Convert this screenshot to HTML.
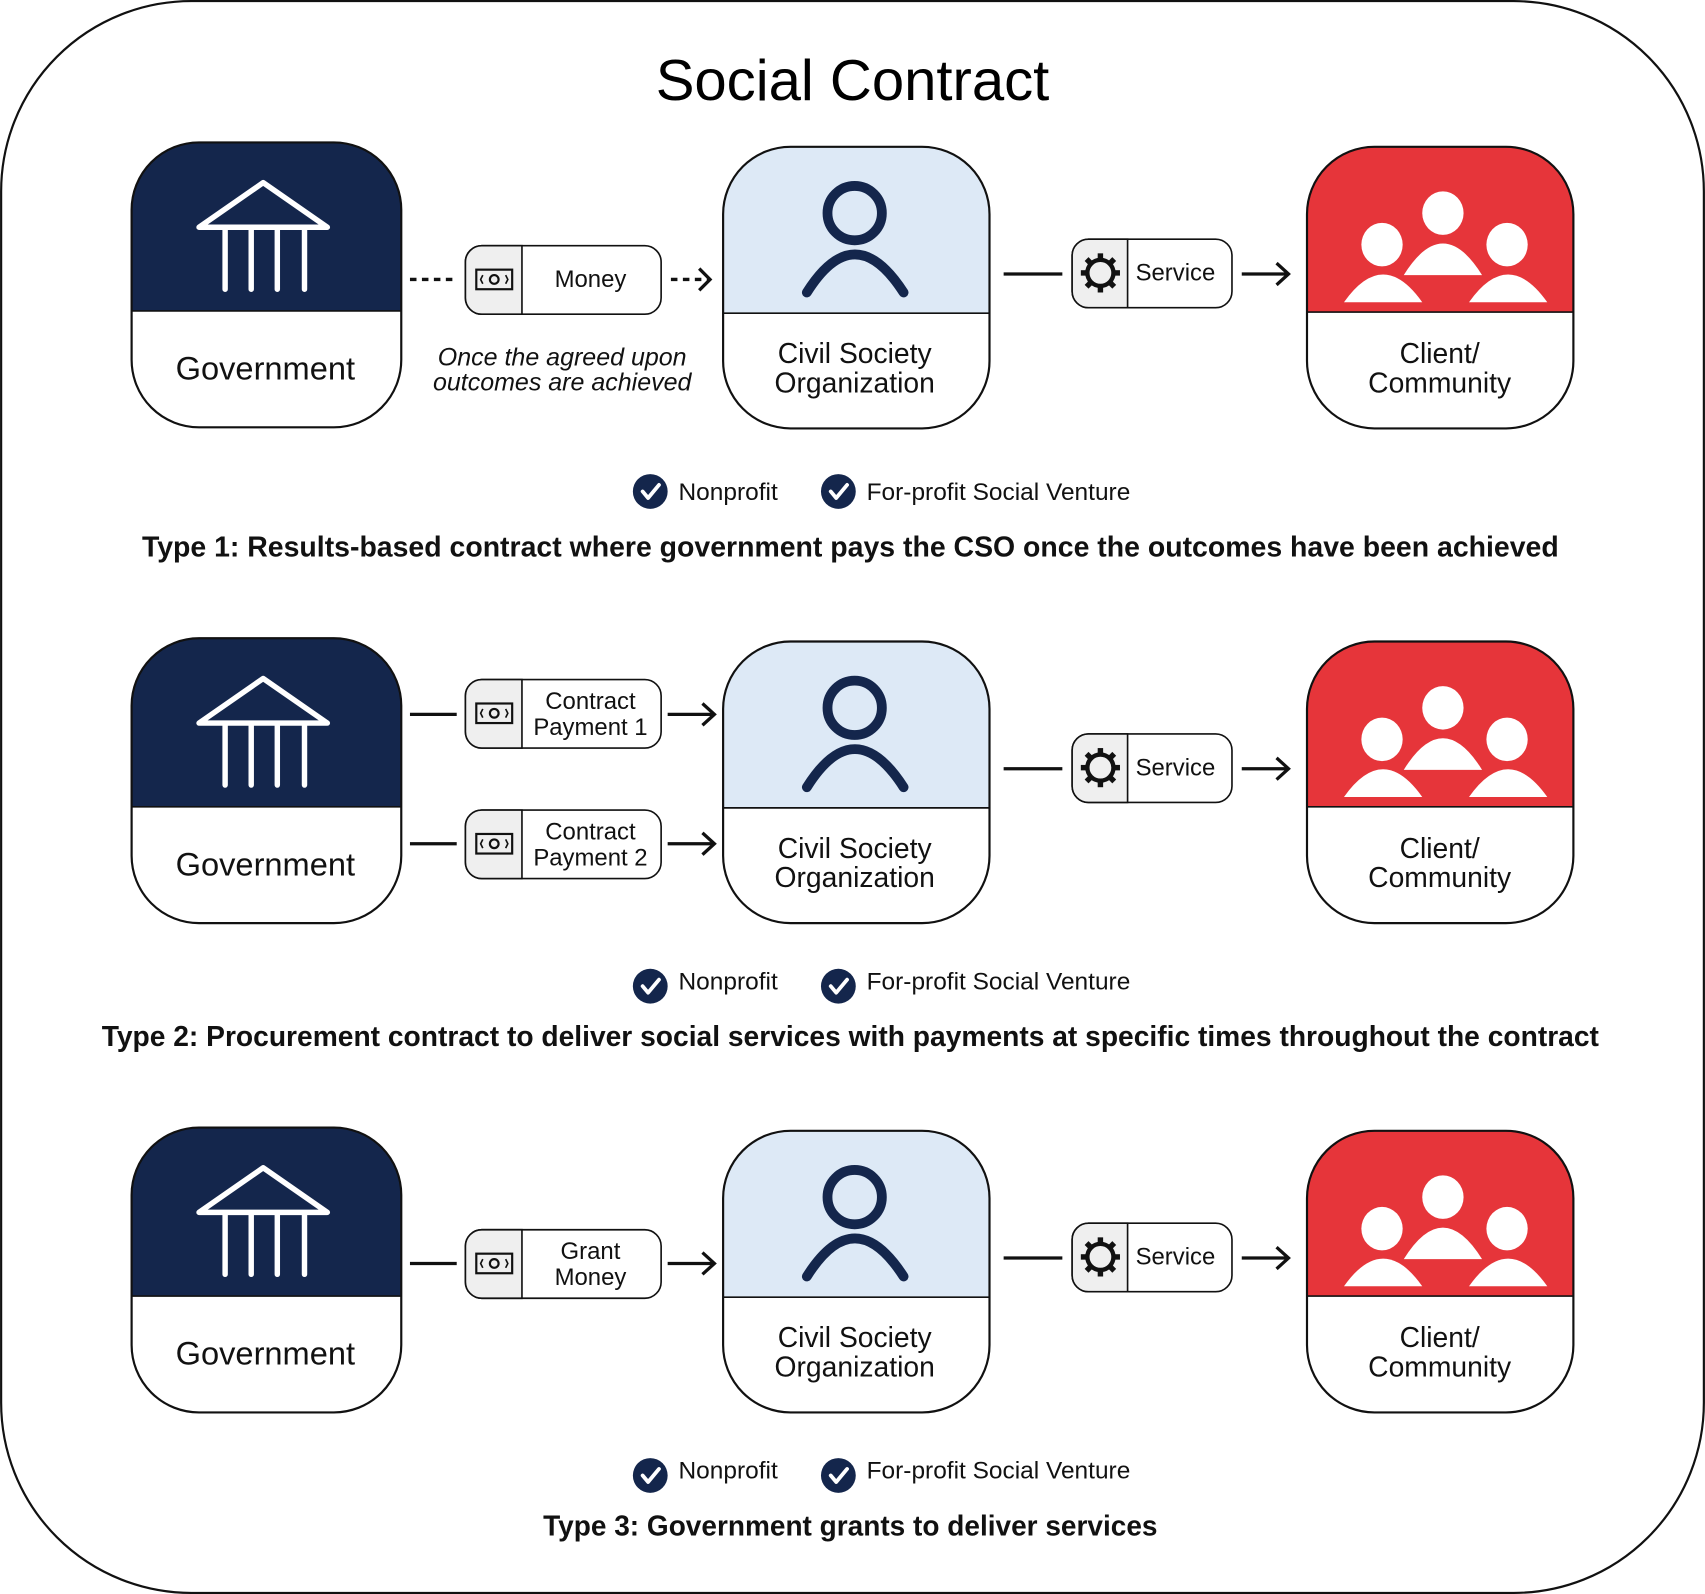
<!DOCTYPE html>
<html><head><meta charset="utf-8"><style>html,body{margin:0;padding:0;background:#fff}svg{display:block}text{font-family:"Liberation Sans",sans-serif}</style></head>
<body>
<svg width="1705" height="1594" viewBox="0 0 1568 1466" xmlns="http://www.w3.org/2000/svg">
<defs>
<clipPath id="cg"><rect x="0" y="0" width="248" height="262" rx="62"/></clipPath>
<clipPath id="cc"><rect x="0" y="0" width="245" height="259" rx="62"/></clipPath>
<g id="gov">
 <rect x="0" y="0" width="248" height="262" rx="62" fill="#fff"/>
 <rect x="0" y="0" width="248" height="155" fill="#14264c" clip-path="url(#cg)"/>
 <line x1="0" y1="155" x2="248" y2="155" stroke="#111" stroke-width="1.5"/>
 <rect x="0" y="0" width="248" height="262" rx="62" fill="none" stroke="#111" stroke-width="2"/>
 <g stroke="#fff" stroke-width="5" stroke-linecap="round" stroke-linejoin="round" fill="none">
  <path d="M62 78 L121 37 L180 78 Z"/>
  <line x1="86" y1="80" x2="86" y2="135"/><line x1="110" y1="80" x2="110" y2="135"/>
  <line x1="134" y1="80" x2="134" y2="135"/><line x1="159" y1="80" x2="159" y2="135"/>
 </g>
</g>
<g id="cso">
 <rect x="0" y="0" width="245" height="259" rx="62" fill="#fff"/>
 <rect x="0" y="0" width="245" height="153" fill="#dde9f6" clip-path="url(#cc)"/>
 <line x1="0" y1="153" x2="245" y2="153" stroke="#111" stroke-width="1.5"/>
 <rect x="0" y="0" width="245" height="259" rx="62" fill="none" stroke="#111" stroke-width="2"/>
 <circle cx="121" cy="61" r="25" fill="none" stroke="#14264c" stroke-width="9"/>
 <path d="M77 134 Q121 64 166 134" fill="none" stroke="#14264c" stroke-width="9" stroke-linecap="round"/>
</g>
<g id="cli">
 <rect x="0" y="0" width="245" height="259" rx="62" fill="#fff"/>
 <rect x="0" y="0" width="245" height="152" fill="#e6353a" clip-path="url(#cc)"/>
 <line x1="0" y1="152" x2="245" y2="152" stroke="#111" stroke-width="1.5"/>
 <rect x="0" y="0" width="245" height="259" rx="62" fill="none" stroke="#111" stroke-width="2"/>
 <g fill="#fff">
  <ellipse cx="69" cy="90" rx="19" ry="20"/>
  <ellipse cx="125" cy="61" rx="19" ry="20"/>
  <ellipse cx="184" cy="90" rx="19" ry="20"/>
  <path d="M89 118 Q125 60 161 118 Z"/>
  <path d="M34 143 Q70 92 106 143 Z"/>
  <path d="M149 143 Q185 92 221 143 Z"/>
 </g>
</g>
<g id="money">
 <rect x="0" y="0" width="180" height="63" rx="15" fill="#fff" stroke="#111" stroke-width="1.5"/>
 <path d="M15 0 H52 V63 H15 A15 15 0 0 1 0 48 V15 A15 15 0 0 1 15 0 Z" fill="#efefef" stroke="#111" stroke-width="1.5"/>
 <rect x="10" y="22" width="33" height="18" fill="none" stroke="#111" stroke-width="2"/>
 <circle cx="26.5" cy="31" r="4" fill="none" stroke="#111" stroke-width="2"/>
 <path d="M16 27 l-2 4 l2 4 M37 27 l2 4 l-2 4" fill="none" stroke="#111" stroke-width="1.5"/>
</g>
<g id="serv">
 <rect x="0" y="0" width="147" height="63" rx="15" fill="#fff" stroke="#111" stroke-width="1.5"/>
 <path d="M15 0 H51 V63 H15 A15 15 0 0 1 0 48 V15 A15 15 0 0 1 15 0 Z" fill="#efefef" stroke="#111" stroke-width="1.5"/>
 <g transform="translate(26,31)">
  <circle r="12" fill="none" stroke="#111" stroke-width="4"/>
  <g fill="#111">
   <rect x="-2.5" y="-18" width="5" height="6"/><rect x="-2.5" y="12" width="5" height="6"/>
   <rect x="-18" y="-2.5" width="6" height="5"/><rect x="12" y="-2.5" width="6" height="5"/>
   <rect x="-2.5" y="-18" width="5" height="6" transform="rotate(45)"/><rect x="-2.5" y="12" width="5" height="6" transform="rotate(45)"/>
   <rect x="-18" y="-2.5" width="6" height="5" transform="rotate(45)"/><rect x="12" y="-2.5" width="6" height="5" transform="rotate(45)"/>
  </g>
 </g>
</g>
<g id="arrow"><line x1="0" y1="0" x2="42" y2="0" stroke="#111" stroke-width="3"/><path d="M32 -10 L43 0 L32 10" fill="none" stroke="#111" stroke-width="3"/></g>
<g id="chk"><circle r="16" fill="#14264c"/><path d="M-7 0 L-2 6 L8 -6" fill="none" stroke="#fff" stroke-width="3.5" stroke-linecap="round" stroke-linejoin="round"/></g>
<g id="right">
 <use href="#cso" x="665" y="135"/>
 <line x1="923" y1="252" x2="977" y2="252" stroke="#111" stroke-width="3"/>
 <use href="#serv" x="986" y="220"/>
 <use href="#arrow" x="1142" y="252"/>
 <use href="#cli" x="1202" y="135"/>
 <use href="#chk" x="598" y="452"/><use href="#chk" x="771" y="452"/>
</g>
</defs>
<rect x="1" y="1" width="1566" height="1464" rx="175" fill="#fff" stroke="#111" stroke-width="2"/>
<text x="784" y="92" font-size="53" text-anchor="middle" fill="#000" textLength="362" lengthAdjust="spacingAndGlyphs">Social Contract</text>

<!-- Row 1 -->
<use href="#gov" x="121" y="131"/>
<use href="#right" x="0" y="0"/>
<line x1="377" y1="257" x2="420" y2="257" stroke="#111" stroke-width="3" stroke-dasharray="6,5"/>
<use href="#money" x="428" y="226"/>
<line x1="617" y1="257" x2="652" y2="257" stroke="#111" stroke-width="3" stroke-dasharray="6,5"/>
<path d="M643 247 L653 257 L643 267" fill="none" stroke="#111" stroke-width="3"/>
<g font-size="22" fill="#111" text-anchor="middle">
 <text x="543" y="264">Money</text>
 <text x="1081" y="258">Service</text>
</g>
<g font-size="23" font-style="italic" fill="#111" text-anchor="middle">
 <text x="517" y="336">Once the agreed upon</text>
 <text x="517" y="359">outcomes are achieved</text>
</g>

<!-- Row 2 -->
<use href="#gov" x="121" y="587"/>
<use href="#right" x="0" y="455"/>
<line x1="377" y1="657" x2="420" y2="657" stroke="#111" stroke-width="3"/>
<use href="#money" x="428" y="625"/>
<use href="#arrow" x="614" y="657"/>
<line x1="377" y1="776" x2="420" y2="776" stroke="#111" stroke-width="3"/>
<use href="#money" x="428" y="745"/>
<use href="#arrow" x="614" y="776"/>
<g font-size="22" fill="#111" text-anchor="middle">
 <text x="543" y="652">Contract</text><text x="543" y="676">Payment 1</text>
 <text x="543" y="772">Contract</text><text x="543" y="796">Payment 2</text>
 <text x="1081" y="713">Service</text>
</g>

<!-- Row 3 -->
<use href="#gov" x="121" y="1037"/>
<use href="#right" x="0" y="905"/>
<line x1="377" y1="1162" x2="420" y2="1162" stroke="#111" stroke-width="3"/>
<use href="#money" x="428" y="1131"/>
<use href="#arrow" x="614" y="1162"/>
<g font-size="22" fill="#111" text-anchor="middle">
 <text x="543" y="1158">Grant</text><text x="543" y="1182">Money</text>
 <text x="1081" y="1163">Service</text>
</g>

<!-- Box labels -->
<g font-size="30" fill="#111" text-anchor="middle">
 <text x="244" y="349">Government</text>
 <text x="244" y="805">Government</text>
 <text x="244" y="1255">Government</text>
</g>
<g font-size="26" fill="#111" text-anchor="middle">
 <text x="786" y="334">Civil Society</text><text x="786" y="361">Organization</text>
 <text x="1324" y="334">Client/</text><text x="1324" y="361">Community</text>
 <text x="786" y="789">Civil Society</text><text x="786" y="816">Organization</text>
 <text x="1324" y="789">Client/</text><text x="1324" y="816">Community</text>
 <text x="786" y="1239">Civil Society</text><text x="786" y="1266">Organization</text>
 <text x="1324" y="1239">Client/</text><text x="1324" y="1266">Community</text>
</g>

<!-- checks labels -->
<g font-size="22.5" fill="#111">
 <text x="624" y="460">Nonprofit</text><text x="797" y="460">For-profit Social Venture</text>
 <text x="624" y="910">Nonprofit</text><text x="797" y="910">For-profit Social Venture</text>
 <text x="624" y="1360">Nonprofit</text><text x="797" y="1360">For-profit Social Venture</text>
</g>
<g font-size="26" font-weight="bold" fill="#111" text-anchor="middle" lengthAdjust="spacingAndGlyphs">
 <text x="782" y="512" textLength="1303" lengthAdjust="spacingAndGlyphs">Type 1: Results-based contract where government pays the CSO once the outcomes have been achieved</text>
 <text x="782" y="962" textLength="1377" lengthAdjust="spacingAndGlyphs">Type 2: Procurement contract to deliver social services with payments at specific times throughout the contract</text>
 <text x="782" y="1412" textLength="565" lengthAdjust="spacingAndGlyphs">Type 3: Government grants to deliver services</text>
</g>
</svg>
</body></html>
